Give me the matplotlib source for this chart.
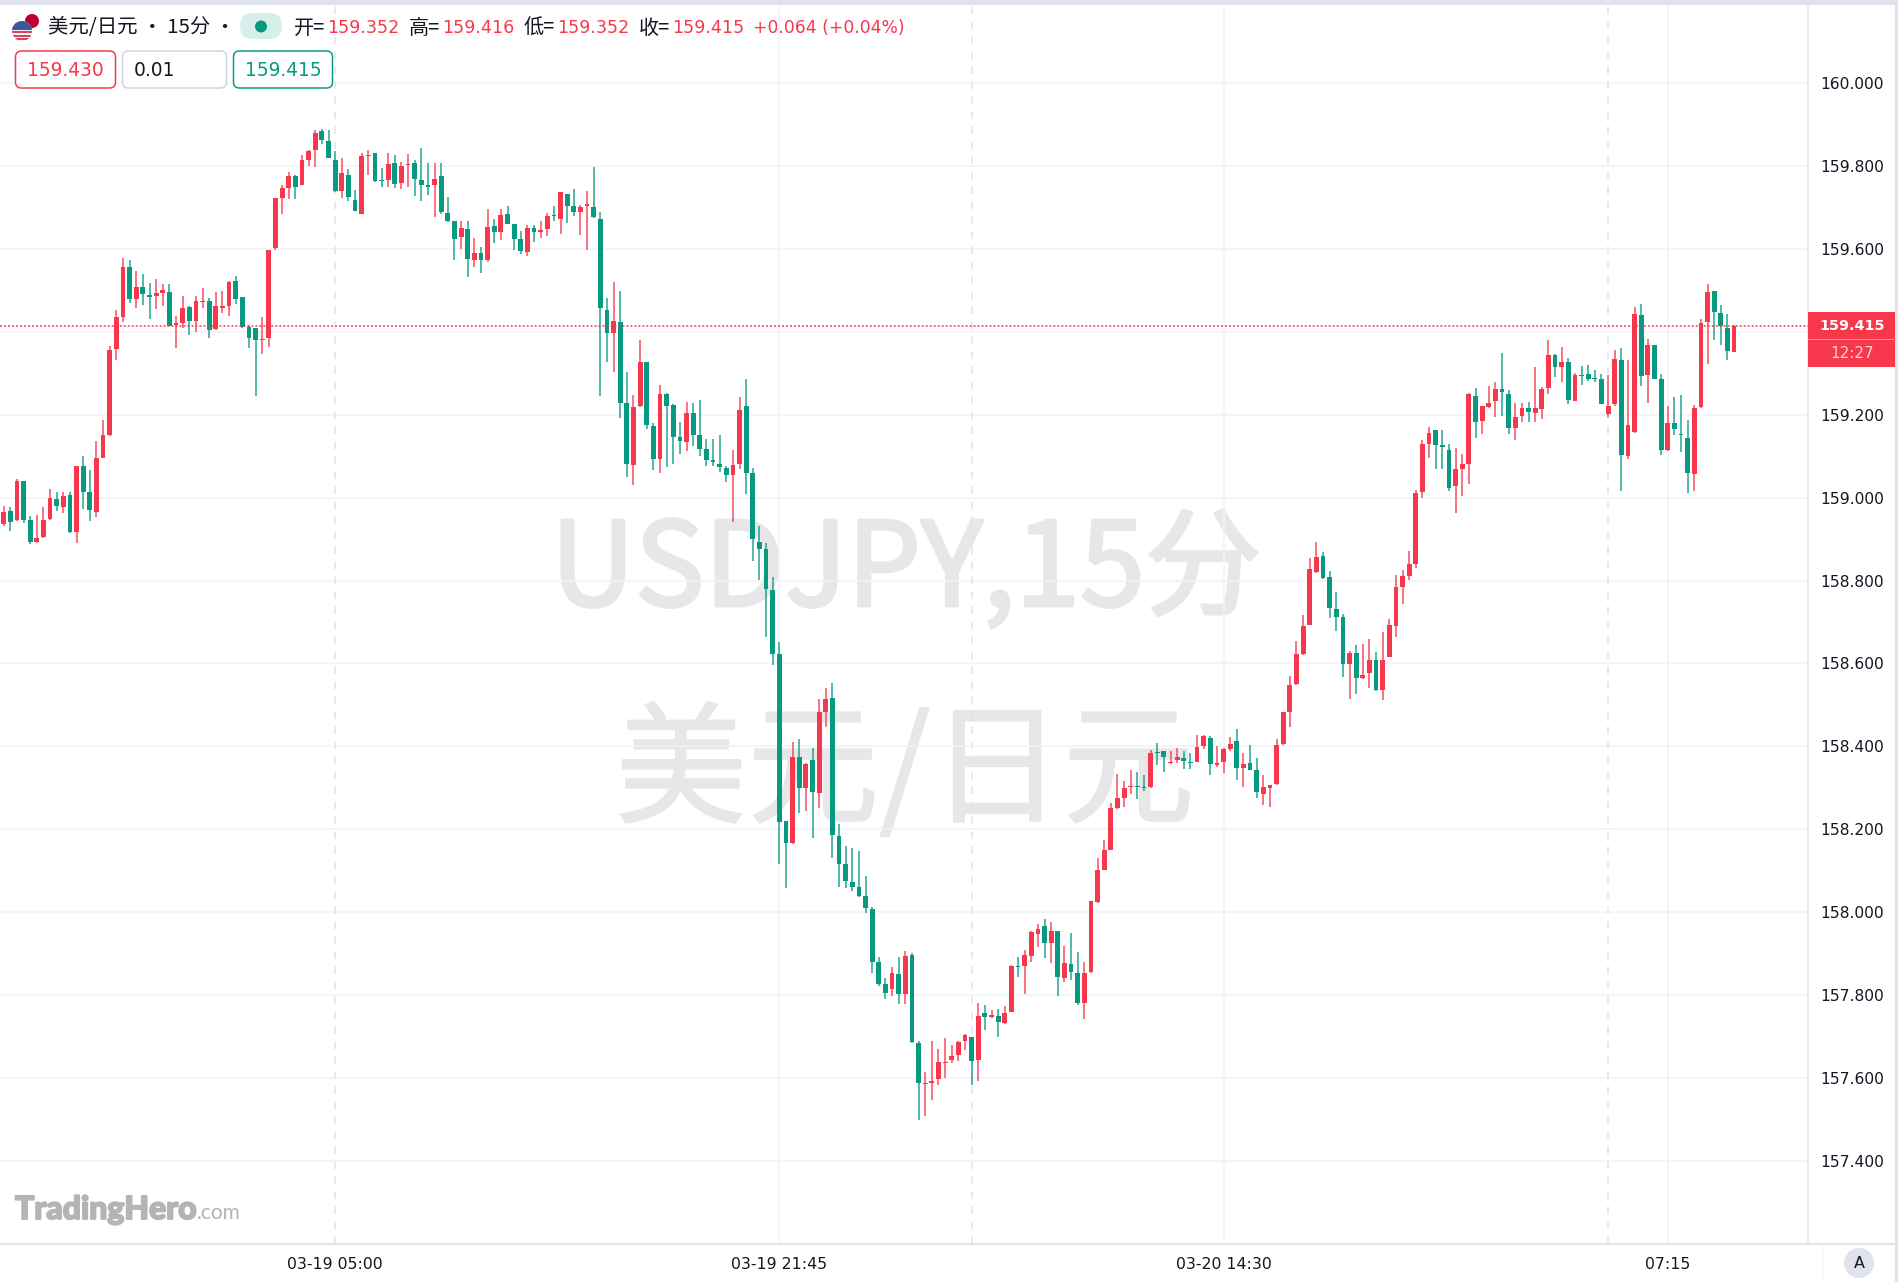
import matplotlib
matplotlib.use("Agg")
import matplotlib.pyplot as plt
import matplotlib.patheffects as pe
from matplotlib.patches import Circle, FancyBboxPatch, Rectangle

# ======================================================
# Data: 15 min candles
# ======================================================
opens = [
    158.936, 158.967, 158.945, 159.040, 158.946, 158.893, 158.904, 158.948, 158.997, 158.977,
    159.006, 158.918, 159.076, 159.014, 158.965, 159.096, 159.150, 159.359, 159.435, 159.557,
    159.480, 159.507, 159.487, 159.487, 159.494, 159.496, 159.416, 159.420, 159.459, 159.425,
    159.472, 159.474, 159.406, 159.458, 159.463, 159.522, 159.483, 159.411, 159.408, 159.379,
    159.384, 159.602, 159.723, 159.747, 159.776, 159.754, 159.814, 159.838, 159.884, 159.860,
    159.814, 159.740, 159.778, 159.718, 159.684, 159.823, 159.831, 159.766, 159.765, 159.806,
    159.759, 159.801, 159.806, 159.765, 159.752, 159.753, 159.776, 159.687, 159.666, 159.629,
    159.647, 159.574, 159.589, 159.572, 159.654, 159.641, 159.683, 159.660, 159.624, 159.593,
    159.650, 159.640, 159.648, 159.680, 159.672, 159.732, 159.703, 159.689, 159.704, 159.701,
    159.671, 159.453, 159.396, 159.423, 159.227, 159.078, 159.221, 159.326, 159.173, 159.092,
    159.251, 159.224, 159.146, 159.135, 159.204, 159.150, 159.117, 159.091, 159.081, 159.071,
    159.055, 159.081, 159.221, 159.059, 158.894, 158.877, 158.776, 158.624, 158.219, 158.166,
    158.375, 158.300, 158.367, 158.288, 158.484, 158.517, 158.184, 158.117, 158.073, 158.060,
    158.040, 158.009, 157.879, 157.828, 157.815, 157.852, 157.802, 157.896, 157.685, 157.586,
    157.588, 157.598, 157.637, 157.643, 157.655, 157.690, 157.699, 157.643, 157.756, 157.747,
    157.751, 157.734, 157.760, 157.869, 157.870, 157.895, 157.948, 157.966, 157.927, 157.955,
    157.842, 157.876, 157.853, 157.781, 157.855, 158.024, 158.103, 158.150, 158.252, 158.276,
    158.301, 158.305, 158.302, 158.303, 158.387, 158.388, 158.360, 158.367, 158.373, 158.361,
    158.363, 158.400, 158.421, 158.356, 158.363, 158.394, 158.414, 158.347, 158.359, 158.343,
    158.285, 158.299, 158.309, 158.405, 158.483, 158.550, 158.623, 158.693, 158.821, 158.858,
    158.809, 158.732, 158.711, 158.599, 158.625, 158.564, 158.576, 158.609, 158.535, 158.616,
    158.691, 158.784, 158.810, 158.839, 159.014, 159.130, 159.162, 159.128, 159.115, 159.029,
    159.070, 159.081, 159.246, 159.184, 159.219, 159.232, 159.261, 159.251, 159.169, 159.196,
    159.217, 159.205, 159.214, 159.264, 159.345, 159.316, 159.328, 159.233, 159.295, 159.299,
    159.287, 159.286, 159.202, 159.225, 159.333, 159.101, 159.158, 159.440, 159.295, 159.367,
    159.287, 159.115, 159.180, 159.152, 159.143, 159.058, 159.219, 159.423, 159.498, 159.446,
    159.408, 159.352,
]
highs = [
    158.980, 158.977, 159.045, 159.041, 158.956, 158.958, 158.977, 159.021, 159.014, 159.014,
    159.014, 159.076, 159.101, 159.067, 159.137, 159.187, 159.366, 159.452, 159.577, 159.572,
    159.546, 159.539, 159.517, 159.527, 159.515, 159.515, 159.437, 159.486, 159.463, 159.487,
    159.505, 159.482, 159.495, 159.498, 159.522, 159.535, 159.484, 159.416, 159.409, 159.435,
    159.598, 159.723, 159.753, 159.786, 159.777, 159.826, 159.838, 159.887, 159.890, 159.886,
    159.837, 159.820, 159.792, 159.741, 159.832, 159.839, 159.832, 159.794, 159.831, 159.826,
    159.810, 159.828, 159.814, 159.843, 159.806, 159.806, 159.808, 159.726, 159.667, 159.668,
    159.667, 159.626, 159.604, 159.697, 159.671, 159.695, 159.704, 159.661, 159.643, 159.658,
    159.657, 159.668, 159.686, 159.704, 159.737, 159.733, 159.745, 159.705, 159.740, 159.798,
    159.689, 159.482, 159.519, 159.498, 159.302, 159.247, 159.379, 159.327, 159.179, 159.272,
    159.252, 159.225, 159.183, 159.231, 159.228, 159.236, 159.142, 159.142, 159.151, 159.076,
    159.115, 159.242, 159.285, 159.072, 158.932, 158.890, 158.809, 158.651, 158.220, 158.411,
    158.418, 158.359, 158.397, 158.515, 158.540, 158.553, 158.212, 158.160, 158.156, 158.147,
    158.088, 158.013, 157.891, 157.841, 157.868, 157.891, 157.906, 157.902, 157.690, 157.614,
    157.689, 157.671, 157.696, 157.681, 157.690, 157.707, 157.700, 157.782, 157.776, 157.764,
    157.766, 157.774, 157.872, 157.891, 157.910, 157.954, 157.971, 157.984, 157.977, 157.956,
    157.918, 157.951, 157.905, 157.879, 158.028, 158.131, 158.175, 158.264, 158.334, 158.317,
    158.342, 158.338, 158.330, 158.392, 158.408, 158.389, 158.388, 158.396, 158.388, 158.385,
    158.428, 158.428, 158.425, 158.401, 158.395, 158.423, 158.442, 158.385, 158.404, 158.371,
    158.331, 158.308, 158.418, 158.484, 158.570, 158.654, 158.717, 158.855, 158.892, 158.869,
    158.822, 158.772, 158.720, 158.629, 158.645, 158.646, 158.659, 158.628, 158.676, 158.708,
    158.814, 158.826, 158.872, 159.018, 159.138, 159.171, 159.163, 159.164, 159.130, 159.120,
    159.105, 159.252, 159.265, 159.221, 159.269, 159.279, 159.349, 159.260, 159.229, 159.229,
    159.231, 159.315, 159.267, 159.380, 159.346, 159.364, 159.336, 159.301, 159.318, 159.321,
    159.307, 159.299, 159.295, 159.355, 159.362, 159.332, 159.460, 159.466, 159.383, 159.368,
    159.299, 159.221, 159.243, 159.248, 159.187, 159.223, 159.431, 159.516, 159.499, 159.464,
    159.444, 159.416,
]
lows = [
    158.932, 158.920, 158.944, 158.939, 158.887, 158.891, 158.903, 158.945, 158.968, 158.964,
    158.915, 158.891, 158.973, 158.944, 158.953, 159.095, 159.149, 159.331, 159.424, 159.470,
    159.458, 159.464, 159.431, 159.455, 159.463, 159.414, 159.362, 159.408, 159.392, 159.400,
    159.458, 159.386, 159.405, 159.445, 159.439, 159.466, 159.408, 159.362, 159.246, 159.347,
    159.364, 159.596, 159.683, 159.720, 159.720, 159.753, 159.800, 159.797, 159.853, 159.819,
    159.737, 159.722, 159.716, 159.691, 159.683, 159.777, 159.762, 159.748, 159.749, 159.746,
    159.745, 159.748, 159.727, 159.716, 159.729, 159.676, 159.683, 159.664, 159.573, 159.600,
    159.533, 159.555, 159.541, 159.568, 159.615, 159.621, 159.660, 159.597, 159.588, 159.583,
    159.616, 159.625, 159.631, 159.668, 159.636, 159.662, 159.680, 159.634, 159.596, 159.675,
    159.244, 159.327, 159.304, 159.191, 159.050, 159.031, 159.219, 159.166, 159.067, 159.060,
    159.075, 159.081, 159.106, 159.113, 159.125, 159.101, 159.076, 159.076, 159.061, 159.038,
    158.940, 159.068, 159.008, 158.846, 158.801, 158.664, 158.596, 158.116, 158.059, 158.165,
    158.239, 158.244, 158.179, 158.251, 158.446, 158.132, 158.061, 158.058, 158.051, 158.038,
    157.998, 157.853, 157.821, 157.791, 157.798, 157.778, 157.778, 157.684, 157.499, 157.509,
    157.547, 157.584, 157.600, 157.636, 157.642, 157.667, 157.584, 157.592, 157.716, 157.744,
    157.698, 157.731, 157.759, 157.845, 157.804, 157.880, 157.917, 157.890, 157.877, 157.799,
    157.831, 157.836, 157.777, 157.743, 157.854, 158.023, 158.102, 158.149, 158.250, 158.254,
    158.285, 158.272, 158.292, 158.300, 158.354, 158.338, 158.358, 158.359, 158.345, 158.345,
    158.362, 158.394, 158.330, 158.351, 158.335, 158.390, 158.320, 158.302, 158.342, 158.276,
    158.258, 158.253, 158.308, 158.404, 158.446, 158.549, 158.620, 158.692, 158.817, 158.803,
    158.709, 158.678, 158.568, 158.515, 158.526, 158.563, 158.540, 158.534, 158.511, 158.615,
    158.665, 158.743, 158.802, 158.831, 158.999, 159.095, 159.068, 159.068, 159.017, 158.962,
    159.003, 159.032, 159.143, 159.153, 159.216, 159.194, 159.196, 159.153, 159.138, 159.182,
    159.182, 159.182, 159.189, 159.251, 159.291, 159.279, 159.225, 159.232, 159.271, 159.281,
    159.279, 159.225, 159.194, 159.220, 159.015, 159.092, 159.157, 159.270, 159.228, 159.286,
    159.102, 159.113, 159.152, 159.109, 159.010, 159.015, 159.217, 159.322, 159.381, 159.369,
    159.331, 159.352,
]
closes = [
    158.965, 158.942, 159.041, 158.946, 158.892, 158.903, 158.945, 158.998, 158.979, 159.005,
    158.916, 159.076, 159.014, 158.969, 159.096, 159.150, 159.355, 159.436, 159.557, 159.478,
    159.507, 159.490, 159.485, 159.494, 159.500, 159.415, 159.420, 159.457, 159.425, 159.475,
    159.474, 159.405, 159.461, 159.461, 159.521, 159.479, 159.412, 159.384, 159.379, 159.382,
    159.597, 159.722, 159.747, 159.776, 159.750, 159.814, 159.837, 159.880, 159.862, 159.820,
    159.740, 159.783, 159.725, 159.692, 159.823, 159.827, 159.764, 159.764, 159.805, 159.757,
    159.799, 159.805, 159.769, 159.754, 159.750, 159.769, 159.690, 159.667, 159.623, 159.650,
    159.576, 159.591, 159.574, 159.652, 159.640, 159.682, 159.661, 159.624, 159.594, 159.650,
    159.640, 159.646, 159.679, 159.678, 159.736, 159.704, 159.689, 159.702, 159.708, 159.676,
    159.458, 159.397, 159.425, 159.228, 159.081, 159.219, 159.326, 159.175, 159.092, 159.251,
    159.222, 159.145, 159.137, 159.204, 159.150, 159.117, 159.091, 159.087, 159.073, 159.055,
    159.079, 159.212, 159.059, 158.900, 158.877, 158.779, 158.624, 158.218, 158.168, 158.375,
    158.300, 158.358, 158.289, 158.484, 158.515, 158.186, 158.117, 158.075, 158.061, 158.040,
    158.010, 157.880, 157.827, 157.805, 157.853, 157.803, 157.895, 157.687, 157.588, 157.589,
    157.594, 157.640, 157.638, 157.653, 157.686, 157.704, 157.642, 157.750, 157.747, 157.753,
    157.735, 157.758, 157.871, 157.867, 157.896, 157.953, 157.959, 157.925, 157.955, 157.844,
    157.877, 157.856, 157.780, 157.854, 158.026, 158.101, 158.149, 158.252, 158.275, 158.299,
    158.302, 158.302, 158.299, 158.385, 158.384, 158.374, 158.363, 158.374, 158.364, 158.359,
    158.399, 158.426, 158.358, 158.360, 158.394, 158.406, 158.347, 158.358, 158.344, 158.289,
    158.301, 158.307, 158.404, 158.483, 158.547, 158.623, 158.691, 158.828, 158.857, 158.807,
    158.733, 158.713, 158.598, 158.626, 158.565, 158.573, 158.609, 158.535, 158.609, 158.694,
    158.784, 158.810, 158.839, 159.012, 159.130, 159.155, 159.128, 159.121, 159.023, 159.068,
    159.080, 159.251, 159.182, 159.220, 159.229, 159.262, 159.254, 159.168, 159.195, 159.217,
    159.206, 159.215, 159.262, 159.345, 159.316, 159.328, 159.235, 159.295, 159.293, 159.287,
    159.285, 159.226, 159.222, 159.334, 159.102, 159.174, 159.442, 159.294, 159.368, 159.287,
    159.115, 159.180, 159.166, 159.151, 159.059, 159.217, 159.420, 159.496, 159.448, 159.414,
    159.353, 159.415,
]

price_ticks = [157.4, 157.6, 157.8, 158.0, 158.2, 158.4, 158.6, 158.8, 159.0, 159.2, 159.4, 159.6, 159.8, 160.0]
time_idx = [50, 117, 184, 251]
time_labels = ["03-19 05:00", "03-19 21:45", "03-20 14:30", "07:15"]
session_idx = [50, 146, 242]
last_price = 159.415

# ======================================================
# Plot settings
# ======================================================
W, H = 1898, 1282
UP = "#f7374b"
DOWN = "#089981"
GRID = "#f1f3f9"
BORDER = "#e0e3eb"
TEXT = "#131722"
WATERMARK = "#e7e7ea"
LOGO = "#b4b4b4"
FONTS = ["DejaVu Sans", "Noto Sans CJK SC"]
PX = 0.72  # one pixel in points at dpi 100

plt.rcParams["font.family"] = FONTS

fig = plt.figure(figsize=(W / 100, H / 100), dpi=100, facecolor="white")
ax = fig.add_axes([0, (H - 1244) / H, 1808 / W, (1244 - 5) / H])
ax.set_facecolor("white")
ax.set_xlim(-0.55, 272.15)
ax.set_ylim(157.200, 160.188)

# ======================================================
# Watermark
# ======================================================
ax.text(906 / W, 1 - 573 / H, "USDJPY,15分", transform=fig.transFigure, ha="center", va="center",
        fontsize=84, color=WATERMARK, family=["Noto Sans CJK SC"], zorder=0,
        path_effects=[pe.withStroke(linewidth=2.4, foreground=WATERMARK)])
ax.text(905 / W, 1 - 775 / H, "美元/日元", transform=fig.transFigure, ha="center", va="center",
        fontsize=95, color=WATERMARK, family=["Noto Sans CJK SC"], zorder=0,
        path_effects=[pe.withStroke(linewidth=1.2, foreground=WATERMARK)])

# ======================================================
# Grid
# ======================================================
for p in price_ticks:
    ax.axhline(p, color=GRID, lw=1.6 * PX, zorder=1)
for i in time_idx[1:]:
    ax.axvline(i, color=GRID, lw=1.6 * PX, zorder=1)
for i in session_idx:
    ax.axvline(i, color=BORDER, lw=1.5 * PX, linestyle=(0, (5, 5)), zorder=1)

# ======================================================
# Candles
# ======================================================
idx = list(range(len(opens)))
colors = [UP if c >= o else DOWN for o, c in zip(opens, closes)]
ax.vlines(idx, lows, highs, colors=colors, lw=1.6 * PX, alpha=0.85, zorder=2)
tops = [max(o, c) for o, c in zip(opens, closes)]
bots = [min(o, c) for o, c in zip(opens, closes)]
ax.bar(idx, [max(t - b, 0.003) for t, b in zip(tops, bots)], bottom=bots, width=4.8 / 6.63,
       color=colors, linewidth=0, zorder=3)

ax.axhline(last_price, color=UP, lw=1.5 * PX, linestyle=(0, (1.33, 1.33)), zorder=4)

# ======================================================
# Axes
# ======================================================
for side in ["top", "left", "bottom"]:
    ax.spines[side].set_visible(False)
ax.spines["right"].set_color(BORDER)
ax.spines["right"].set_linewidth(1.5 * PX)
ax.yaxis.tick_right()
ax.set_yticks(price_ticks)
# the 159.400 label sits behind the price tag, so it stays blank
ax.set_yticklabels(["" if p == 159.4 else f"{p:.3f}" for p in price_ticks])
ax.set_xticks(time_idx)
ax.set_xticklabels(time_labels)
ax.tick_params(axis="y", length=0, pad=8.6, labelsize=11.2, labelcolor=TEXT)
ax.tick_params(axis="x", length=0, pad=9.6, labelsize=11.3, labelcolor=TEXT)

# ======================================================
# Header, price tag and logo, in pixel coordinates
# ======================================================
ui = fig.add_axes([0, 0, 1, 1], zorder=5)
ui.set_xlim(0, W)
ui.set_ylim(H, 0)
ui.axis("off")
ui.patch.set_alpha(0)

ui.add_patch(Rectangle((0, 0), W, 5, color=BORDER, lw=0))
ui.add_patch(Rectangle((1895, 0), 3, H, color=BORDER, lw=0))
ui.plot([0, W], [1244, 1244], color=BORDER, lw=2 * PX, solid_capstyle="butt")
ui.plot([1823, 1823], [1245, H], color="#f4f5f9", lw=1.5 * PX)

# flag icon
ui.add_patch(Circle((32, 21), 7, color="#bc002d", lw=0))
ui.add_patch(Circle((22, 31), 10, color="#f2f2f2", lw=0))
for y0 in [22.5, 26.5, 30.5, 34.5, 38]:
    clip = Circle((22, 31), 10, transform=ui.transData)
    s = Rectangle((12, y0), 20, 2.2, color="#d8455a", lw=0)
    ui.add_patch(s)
    s.set_clip_path(clip)
clip = Circle((22, 31), 10, transform=ui.transData)
canton = Rectangle((12, 21), 20, 9, color="#3c5a99", lw=0)
ui.add_patch(canton)
canton.set_clip_path(clip)

ui.text(48, 28, "美元/日元 • 15分 •", fontsize=14.7, color=TEXT, va="center", family=["Noto Sans CJK SC", "DejaVu Sans"])
ui.add_patch(FancyBboxPatch((240, 13), 42, 26, boxstyle="round,pad=0,rounding_size=13", fc="#d7efea", ec="none"))
ui.add_patch(Circle((261, 26.5), 6, color=DOWN, lw=0))

ohlc_items = [(294, "开=", "159.352"), (409, "高=", "159.416"), (524, "低=", "159.352"), (639, "收=", "159.415")]
for x0, lab, val in ohlc_items:
    ui.text(x0, 28, lab, fontsize=14.5, color=TEXT, va="center", family=["Noto Sans CJK SC"])
    ui.text(x0 + 33, 28, val, fontsize=12.6, color=UP, va="center")
ui.text(753, 28, "+0.064 (+0.04%)", fontsize=12.3, color=UP, va="center")

boxes = [(15.5, 100, UP, "159.430", UP, 65.5, "center"), (122.5, 104, "#d1d4dc", "0.01", TEXT, 134, "left"),
         (233.5, 99, DOWN, "159.415", DOWN, 283, "center")]
for x0, w, ec, label, tc, tx, ha in boxes:
    ui.add_patch(FancyBboxPatch((x0, 51), w, 37, boxstyle="round,pad=0,rounding_size=6", fc="white", ec=ec, lw=1.5 * PX))
    ui.text(tx, 71, label, fontsize=13.4, color=tc, ha=ha, va="center")

ui.add_patch(Rectangle((1808, 312), 87, 55, color=UP, lw=0))
ui.plot([1808, 1895], [339, 339], color="#f98a96", lw=1 * PX)
ui.text(1852, 326, "159.415", fontsize=10.4, color="white", ha="center", va="center", fontweight="bold")
ui.text(1852, 353, "12:27", fontsize=11, color="#fcd0d6", ha="center", va="center")

ui.add_patch(Circle((1859, 1263), 15, color=BORDER, lw=0))
ui.text(1859, 1263, "A", fontsize=11.5, color=TEXT, ha="center", va="center")

ui.text(15, 1219, "TradingHero", fontsize=23, color=LOGO, family=["Lato"], fontweight="black", va="baseline",
        path_effects=[pe.withStroke(linewidth=1.3, foreground=LOGO)])
ui.text(197, 1219, ".com", fontsize=15, color=LOGO, family=["Lato"], va="baseline")

plt.savefig("out.png", dpi=100, facecolor="white")
plt.close()
